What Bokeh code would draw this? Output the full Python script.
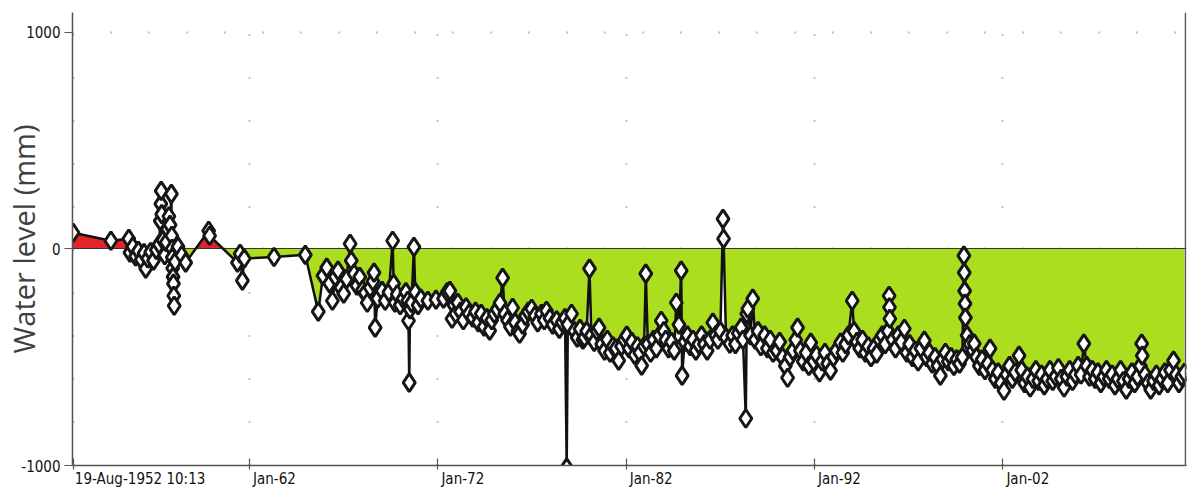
import numpy as np
from bokeh.plotting import figure
from bokeh.models import FixedTicker
from bokeh.embed import file_html
from bokeh.resources import INLINE

# Groundwater level readings (decimal year, mm relative to datum), grouped by decade
readings_1950s = [
    (1952.63, 74), (1954.64, 37), (1955.59, 46), (1955.65, -18), (1955.80, 10),
    (1955.95, -35), (1956.10, -10), (1956.25, -50), (1956.40, -20), (1956.49, -92),
    (1956.60, -45), (1956.75, -15), (1956.90, -55), (1957.05, -5), (1957.20, 20),
    (1957.26, 129), (1957.29, 207), (1957.31, 267), (1957.34, 160), (1957.40, 40),
    (1957.50, -30), (1957.58, 30), (1957.65, 90), (1957.72, 150), (1957.78, 110),
    (1957.85, 253), (1957.87, 60), (1957.89, 0), (1957.90, -40), (1957.92, -90),
    (1957.94, -130), (1957.96, -161), (1957.98, -217), (1958.00, -263), (1958.05, -60),
    (1958.20, 10), (1958.40, -30), (1958.61, -64), (1959.83, 83), (1959.88, 60),
]

readings_1960s = [
    (1961.36, -64), (1961.50, -23), (1961.62, -147), (1961.72, -45), (1963.30, -38),
    (1964.96, -28), (1965.65, -290), (1965.90, -124), (1966.10, -87), (1966.25, -160),
    (1966.40, -240), (1966.55, -130), (1966.70, -101), (1966.85, -180), (1967.00, -207),
    (1967.15, -140), (1967.34, 23), (1967.40, -55), (1967.55, -115), (1967.70, -170),
    (1967.85, -130), (1968.00, -190), (1968.14, -203), (1968.25, -249), (1968.40, -180),
    (1968.55, -150), (1968.61, -110), (1968.67, -364), (1968.80, -230), (1969.04, -194),
    (1969.20, -240), (1969.40, -200), (1969.60, 37), (1969.65, -161), (1969.72, -249),
    (1969.84, -210), (1970.00, -260), (1970.15, -230), (1970.30, -200), (1970.40, -240),
    (1970.44, -332), (1970.48, -618), (1970.52, -280), (1970.60, -250), (1970.73, 9),
    (1970.80, -200), (1970.95, -260), (1971.10, -230), (1971.47, -240), (1971.90, -235),
]

readings_1970s = [
    (1972.30, -230), (1972.50, -200), (1972.64, -194), (1972.75, -323), (1972.85, -260),
    (1972.95, -300), (1973.06, -249), (1973.20, -290), (1973.35, -330), (1973.50, -270),
    (1973.65, -300), (1973.85, -318), (1974.00, -290), (1974.15, -340), (1974.30, -300),
    (1974.45, -360), (1974.60, -320), (1974.75, -378), (1974.86, -330), (1975.00, -300),
    (1975.15, -280), (1975.30, -250), (1975.44, -134), (1975.55, -300), (1975.70, -330),
    (1975.85, -360), (1975.97, -272), (1976.10, -340), (1976.25, -380), (1976.34, -392),
    (1976.50, -350), (1976.65, -310), (1976.80, -290), (1976.98, -277), (1977.15, -310),
    (1977.30, -340), (1977.50, -300), (1977.65, -330), (1977.77, -286), (1977.95, -320),
    (1978.10, -350), (1978.31, -330), (1978.45, -370), (1978.60, -340), (1978.75, -320),
    (1978.84, -1010), (1978.90, -350), (1979.10, -300), (1979.25, -380), (1979.40, -410),
    (1979.55, -370), (1979.70, -420), (1979.78, -410), (1979.90, -380), (1980.05, -92),
    (1980.15, -400), (1980.30, -430), (1980.45, -380), (1980.56, -364), (1980.70, -440),
    (1980.85, -470), (1981.00, -420), (1981.15, -480), (1981.30, -450), (1981.46, -460),
    (1981.60, -516), (1981.75, -450), (1981.90, -420),
]

readings_1980s = [
    (1982.03, -401), (1982.15, -460), (1982.30, -430), (1982.45, -490), (1982.60, -450),
    (1982.72, -480), (1982.82, -539), (1982.95, -450), (1983.04, -115), (1983.15, -440),
    (1983.30, -480), (1983.45, -420), (1983.60, -460), (1983.75, -400), (1983.86, -332),
    (1984.00, -380), (1984.10, -420), (1984.25, -460), (1984.40, -430), (1984.55, -470),
    (1984.66, -249), (1984.80, -350), (1984.92, -101), (1984.97, -585), (1985.10, -430),
    (1985.25, -400), (1985.40, -450), (1985.55, -420), (1985.70, -470), (1985.85, -440),
    (1986.00, -400), (1986.15, -440), (1986.30, -470), (1986.45, -420), (1986.60, -341),
    (1986.75, -400), (1986.87, -420), (1987.00, -380), (1987.14, 138), (1987.17, 46),
    (1987.30, -410), (1987.50, -438), (1987.65, -400), (1987.80, -440), (1987.95, -390),
    (1988.10, -364), (1988.20, -420), (1988.35, -783), (1988.40, -300), (1988.46, -277),
    (1988.60, -400), (1988.72, -230), (1988.85, -420), (1989.00, -380), (1989.15, -450),
    (1989.35, -400), (1989.50, -460), (1989.65, -420), (1989.80, -480), (1990.00, -470),
    (1990.15, -430), (1990.30, -500), (1990.45, -540), (1990.57, -595), (1990.70, -500),
    (1990.85, -470), (1991.00, -420), (1991.10, -364), (1991.25, -470), (1991.40, -520),
    (1991.55, -480), (1991.70, -540), (1991.80, -433), (1991.95, -520),
]

readings_1990s = [
    (1992.10, -490), (1992.26, -570), (1992.40, -520), (1992.55, -480), (1992.70, -530),
    (1992.85, -562), (1993.00, -500), (1993.15, -470), (1993.38, -433), (1993.50, -480),
    (1993.65, -440), (1993.80, -400), (1994.00, -240), (1994.10, -380), (1994.25, -430),
    (1994.40, -460), (1994.55, -420), (1994.70, -480), (1994.85, -450), (1995.00, -500),
    (1995.15, -460), (1995.30, -484), (1995.45, -420), (1995.60, -400), (1995.75, -440),
    (1995.90, -380), (1995.96, -217), (1995.98, -270), (1996.00, -323), (1996.15, -420),
    (1996.30, -460), (1996.45, -400), (1996.60, -430), (1996.77, -369), (1996.90, -480),
    (1997.05, -440), (1997.20, -500), (1997.35, -470), (1997.50, -520), (1997.65, -460),
    (1997.83, -424), (1997.95, -500), (1998.10, -480), (1998.25, -530), (1998.40, -500),
    (1998.55, -540), (1998.68, -585), (1998.80, -510), (1998.95, -480), (1999.10, -520),
    (1999.25, -500), (1999.40, -540), (1999.55, -510), (1999.70, -530), (1999.85, -500),
    (1999.93, -32), (1999.95, -110), (1999.97, -194), (1999.99, -253), (2000.01, -318),
    (2000.10, -400), (2000.25, -440), (2000.40, -470), (2000.48, -438), (2000.60, -500),
    (2000.75, -540), (2000.90, -510), (2001.05, -560), (2001.20, -530), (2001.32, -461),
    (2001.45, -560), (2001.60, -600), (2001.75, -570), (2001.90, -620),
]

readings_2000s = [
    (2002.06, -655), (2002.20, -580), (2002.35, -540), (2002.50, -600), (2002.65, -570),
    (2002.86, -493), (2003.00, -560), (2003.15, -620), (2003.30, -590), (2003.45, -640),
    (2003.60, -600), (2003.75, -560), (2003.90, -610), (2004.05, -580), (2004.20, -630),
    (2004.35, -600), (2004.50, -560), (2004.65, -610), (2004.80, -590), (2004.95, -550),
    (2005.10, -600), (2005.25, -640), (2005.40, -590), (2005.55, -560), (2005.70, -610),
    (2005.85, -580), (2006.00, -540), (2006.15, -580), (2006.30, -438), (2006.45, -540),
    (2006.60, -590), (2006.75, -560), (2006.90, -600), (2007.05, -570), (2007.20, -620),
    (2007.35, -590), (2007.50, -560), (2007.65, -600), (2007.80, -580), (2007.95, -630),
    (2008.10, -600), (2008.25, -560), (2008.40, -610), (2008.55, -650), (2008.70, -600),
    (2008.85, -570), (2009.00, -620), (2009.15, -590), (2009.30, -540), (2009.37, -438),
    (2009.40, -493), (2009.55, -580), (2009.70, -620), (2009.85, -650), (2010.00, -610),
    (2010.15, -580), (2010.30, -630), (2010.45, -600), (2010.60, -570), (2010.75, -620),
    (2010.90, -560), (2011.06, -516), (2011.20, -580), (2011.35, -620), (2011.50, -590),
    (2011.64, -572),
]

# Axis ticks
x_tick_years = [1952.63, 1962, 1972, 1982, 1992, 2002]
x_tick_labels = ["19-Aug-1952 10:13", "Jan-62", "Jan-72", "Jan-82", "Jan-92", "Jan-02"]
y_tick_values = [-1000, 0, 1000]
y_tick_labels = ["-1000", "0", "1000"]

all_readings = (readings_1950s + readings_1960s + readings_1970s
                + readings_1980s + readings_1990s + readings_2000s)
years = np.array([r[0] for r in all_readings], dtype=float)
level = np.array([r[1] for r in all_readings], dtype=float)


def with_zero_crossings(xs, ys):
    """Insert points where the series crosses zero so the fills split cleanly."""
    out_x, out_y = [xs[0]], [ys[0]]
    for i in range(1, len(xs)):
        x0, y0, x1, y1 = xs[i - 1], ys[i - 1], xs[i], ys[i]
        if (y0 > 0 and y1 < 0) or (y0 < 0 and y1 > 0):
            t = y0 / (y0 - y1)
            out_x.append(x0 + t * (x1 - x0))
            out_y.append(0.0)
        out_x.append(x1)
        out_y.append(y1)
    return np.array(out_x), np.array(out_y)


fx, fy = with_zero_crossings(years, level)

WIDTH, HEIGHT = 1192, 490
BORDER_L, BORDER_R = 72, 6
X_START, X_END = 1952.6, 2011.75
Y_START, Y_END = -1000, 1090
p = figure(
    width=WIDTH, height=HEIGHT,
    x_range=(X_START, X_END), y_range=(Y_START, Y_END),
    output_backend="svg", toolbar_location=None,
    min_border_left=BORDER_L, min_border_right=BORDER_R,
    min_border_top=12, min_border_bottom=24,
    background_fill_color="white", border_fill_color="white",
)
p.outline_line_color = None

# Filled areas above / below the datum
p.varea(x=fx, y1=0, y2=np.maximum(fy, 0), fill_color="#e3242b")
p.varea(x=fx, y1=0, y2=np.minimum(fy, 0), fill_color="#aade1e")
p.hspan(y=0, line_color="#333333", line_width=1.2)

# Series line and markers
p.line(years, level, line_color="#111111", line_width=2.5)
p.scatter(years, level, marker="diamond", size=18, fill_color="white",
          line_color="#161616", line_width=3)

# Right-hand border
p.vspan(x=X_END - 0.04, line_color="#555555", line_width=1.5)

tick_font = "Liberation Sans Narrow, Arial Narrow, DejaVu Sans Condensed, sans-serif"

# Date labels begin at their tick: each label is centred half a label-width to the
# right of its tick (major ticks carry the labels, minor ticks draw the tick marks)
px_per_year = (WIDTH - BORDER_L - BORDER_R) / (X_END - X_START)
label_pos = [t + (len(s) * 7.65 / 2 + 2) / px_per_year for t, s in zip(x_tick_years, x_tick_labels)]

xa = p.xaxis[0]
xa.ticker = FixedTicker(ticks=label_pos, minor_ticks=x_tick_years)
xa.major_label_overrides = dict(zip(label_pos, x_tick_labels))
xa.major_label_text_font = tick_font
xa.major_label_text_font_size = "15px"
xa.major_label_text_color = "#111111"
xa.major_label_standoff = 0
xa.axis_line_color = "#555555"
xa.axis_line_width = 1.5
xa.major_tick_line_color = None
xa.major_tick_in = 0
xa.major_tick_out = 0
xa.minor_tick_line_color = "#555555"
xa.minor_tick_line_width = 1.2
xa.minor_tick_in = 7
xa.minor_tick_out = 4

ya = p.yaxis[0]
ya.ticker = FixedTicker(ticks=y_tick_values)
ya.major_label_overrides = dict(zip(y_tick_values, y_tick_labels))
ya.major_label_text_font = tick_font
ya.major_label_text_font_size = "15px"
ya.major_label_text_color = "#111111"
ya.major_label_standoff = 4
ya.axis_line_color = "#555555"
ya.axis_line_width = 1.5
ya.major_tick_line_color = "#555555"
ya.major_tick_in = 0
ya.major_tick_out = 8
ya.minor_tick_line_color = None
ya.axis_label = "Water level (mm)"
ya.axis_label_standoff = -25
ya.axis_label_text_font = "Open Sans"
ya.axis_label_text_font_size = "29px"
ya.axis_label_text_font_style = "normal"
ya.axis_label_text_color = "#404040"

# Dotted grid: decade verticals and the +1000 mm line
p.xgrid.ticker = FixedTicker(ticks=x_tick_years)
p.xgrid.grid_line_color = "#8a8a8a"
p.xgrid.grid_line_dash = "1 42"
p.xgrid.grid_line_width = 2
p.ygrid.grid_line_color = "#8a8a8a"
p.ygrid.grid_line_dash = "1 37"
p.ygrid.grid_line_width = 2

open("out.html", "w").write(file_html(p, INLINE))
